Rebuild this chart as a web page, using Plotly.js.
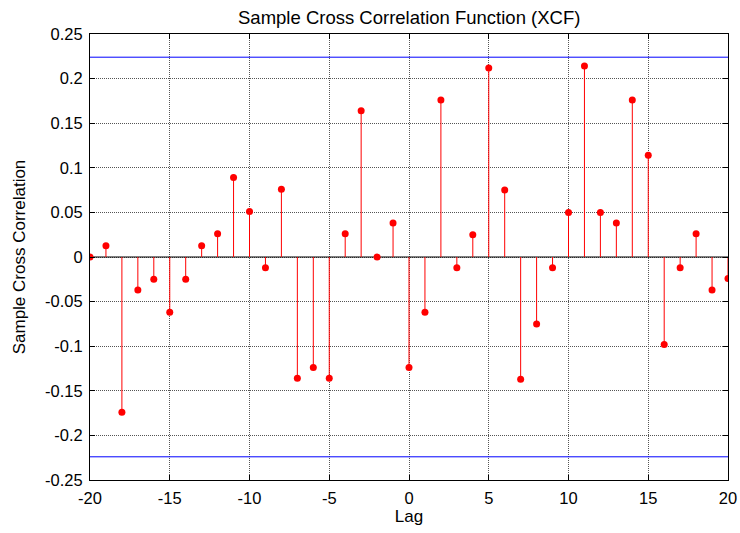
<!DOCTYPE html>
<html>
<head>
<meta charset="utf-8">
<script src="https://cdn.plot.ly/plotly-3.0.1.min.js"></script>
<style>html,body{margin:0;padding:0;background:#fff;}#chart{width:740px;height:533px;}</style>
</head>
<body>
<div id="chart"></div>
<script>
var lags = [-20,-19,-18,-17,-16,-15,-14,-13,-12,-11,-10,-9,-8,-7,-6,-5,-4,-3,-2,-1,0,1,2,3,4,5,6,7,8,9,10,11,12,13,14,15,16,17,18,19,20];
var xcf = [0,0.0125,-0.174,-0.037,-0.025,-0.062,-0.025,0.0125,0.026,0.089,0.051,-0.012,0.076,-0.136,-0.124,-0.136,0.026,0.164,0,0.038,
           -0.124,-0.062,0.176,-0.012,0.025,0.212,0.075,-0.137,-0.075,-0.012,0.050,0.214,0.050,0.038,0.176,0.114,-0.098,-0.012,0.026,-0.037,-0.024];
var bound = 0.224;
var xTicks = [-20,-15,-10,-5,0,5,10,15,20];
var yTicks = [-0.25,-0.2,-0.15,-0.1,-0.05,0,0.05,0.1,0.15,0.2,0.25];

var stemX = [], stemY = [];
for (var i = 0; i < lags.length; i++) {
  stemX.push(lags[i], lags[i], null);
  stemY.push(0, xcf[i], null);
}
var xMin = lags[0], xMax = lags[lags.length - 1];

var traces = [
  {x: [xMin, xMax], y: [0, 0], mode: 'lines', line: {color: '#000', width: 1.2}, hoverinfo: 'skip'},
  {x: stemX, y: stemY, mode: 'lines', line: {color: '#ff0000', width: 1}, hoverinfo: 'skip'},
  {x: lags, y: xcf, mode: 'markers', marker: {color: '#ff0000', size: 7}},
  {x: [xMin, xMax], y: [bound, bound], mode: 'lines', line: {color: '#0000ff', width: 1}},
  {x: [xMin, xMax], y: [-bound, -bound], mode: 'lines', line: {color: '#0000ff', width: 1}}
];

var fam = 'Liberation Sans, Arial, sans-serif';
var layout = {
  width: 740, height: 533,
  margin: {l: 90, r: 12, t: 34, b: 53},
  showlegend: false,
  paper_bgcolor: '#fff', plot_bgcolor: '#fff',
  font: {family: fam, size: 16, color: '#000'},
  title: {text: 'Sample Cross Correlation Function (XCF)', font: {family: fam, size: 18.5, color: '#000'}, x: 0.553, xanchor: 'center', y: 0.968, yanchor: 'middle'},
  xaxis: {
    range: [-20, 20], tickvals: xTicks, ticktext: xTicks.map(String),
    showgrid: true, gridcolor: '#555', griddash: '1px,1px', gridwidth: 1,
    zeroline: false, showline: true, linecolor: '#000', linewidth: 1, mirror: 'ticks',
    ticks: 'inside', ticklen: 5, tickcolor: '#000', ticklabelstandoff: 3,
    tickfont: {family: fam, size: 16.5, color: '#000'},
    title: {text: 'Lag', font: {family: fam, size: 17, color: '#000'}, standoff: 4}
  },
  yaxis: {
    range: [-0.25, 0.25], tickvals: yTicks, ticktext: yTicks.map(function(v){return String(Math.round(v*100)/100);}),
    showgrid: true, gridcolor: '#555', griddash: '1px,1px', gridwidth: 1,
    zeroline: false, showline: true, linecolor: '#000', linewidth: 1, mirror: 'ticks',
    ticks: 'inside', ticklen: 5, tickcolor: '#000', ticklabelstandoff: 3,
    tickfont: {family: fam, size: 16.5, color: '#000'},
    title: {text: 'Sample Cross Correlation', font: {family: fam, size: 17, color: '#000'}, standoff: 15}
  }
};
Plotly.newPlot('chart', traces, layout, {displayModeBar: false, staticPlot: true});
</script>
</body>
</html>
